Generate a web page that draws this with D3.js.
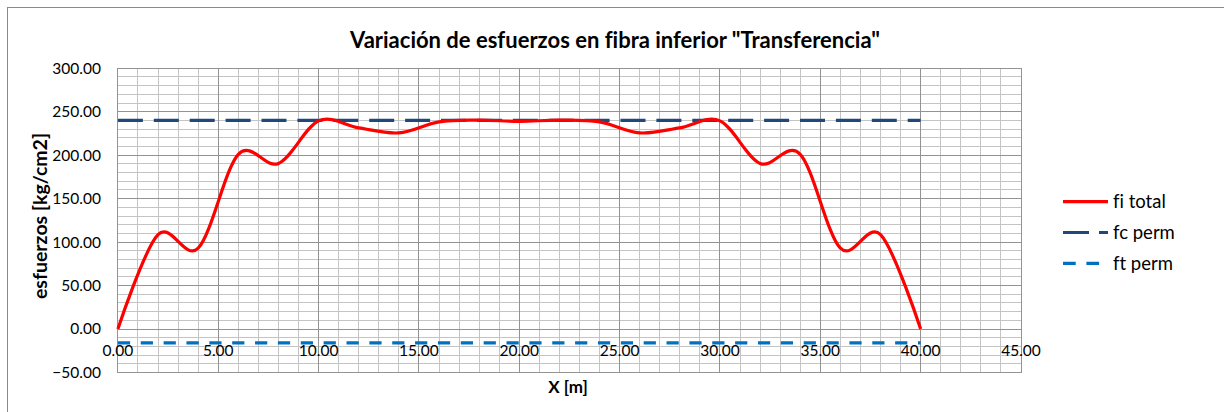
<!DOCTYPE html>
<html>
<head>
<meta charset="utf-8">
<script src="https://cdn.jsdelivr.net/npm/d3@7/dist/d3.min.js"></script>
<style>
  html, body { margin: 0; padding: 0; background: #fff; }
  svg { display: block; }
  text { font-family: Lato, "Open Sans", sans-serif; fill: #000; font-variant-ligatures: none; }
</style>
</head>
<body>
<svg id="chart" width="1224" height="412"></svg>
<script>
// Station along the beam [m]
const stations = [0, 2, 4, 6, 8, 10, 12, 14, 16, 18, 20, 22, 24, 26, 28, 30, 32, 34, 36, 38, 40];
// Total stress in the bottom fibre at transfer [kg/cm2]
const fiTotal = [0, 108.5, 93, 201, 190.5, 239.5, 231.5, 225.7, 238.4, 240.3, 239,
                 240.3, 238.4, 225.7, 231.5, 239.5, 190.5, 201, 93, 108.5, 0];
// Allowable limits (compression / tension)
const limitStations = [0, 40];
const fcPerm = [240, 240];
const ftPerm = [-16, -16];

const xTicks = [0, 5, 10, 15, 20, 25, 30, 35, 40, 45];
const yTicks = [-50, 0, 50, 100, 150, 200, 250, 300];

const titleText = 'Variación de esfuerzos en fibra inferior "Transferencia"';
const xTitle = "X [m]";
const yTitle = "esfuerzos [kg/cm2]";
const seriesNames = ["fi total", "fc perm", "ft perm"];

const svg = d3.select("#chart");

// chart frame
svg.append("rect")
  .attr("x", 7.5).attr("y", 7.5)
  .attr("width", 1240).attr("height", 420)
  .attr("fill", "#fff").attr("stroke", "#8a8a8a").attr("stroke-width", 1);

const x = d3.scaleLinear().domain([0, 45]).range([117.9, 1021]);
const y = d3.scaleLinear().domain([-50, 300]).range([372.5, 68.3]);

const grid = svg.append("g").attr("shape-rendering", "crispEdges");

// minor grid: every 1 m and every 10 kg/cm2
const minorX = d3.range(0, 45.01, 1).filter(v => v % 5 !== 0);
const minorY = d3.range(-50, 300.01, 10).filter(v => v % 50 !== 0);
grid.selectAll(".mx").data(minorX).join("line")
  .attr("x1", d => x(d)).attr("x2", d => x(d))
  .attr("y1", y(-50)).attr("y2", y(300))
  .attr("stroke", "#c4c4c4");
grid.selectAll(".my").data(minorY).join("line")
  .attr("x1", x(0)).attr("x2", x(45))
  .attr("y1", d => y(d)).attr("y2", d => y(d))
  .attr("stroke", "#c4c4c4");

// major grid
grid.selectAll(".Mx").data(xTicks).join("line")
  .attr("x1", d => x(d)).attr("x2", d => x(d))
  .attr("y1", y(-50)).attr("y2", y(300))
  .attr("stroke", "#939393");
grid.selectAll(".My").data(yTicks).join("line")
  .attr("x1", x(0)).attr("x2", x(45))
  .attr("y1", d => y(d)).attr("y2", d => y(d))
  .attr("stroke", "#939393");
grid.append("rect")
  .attr("x", x(0)).attr("y", y(300))
  .attr("width", x(45) - x(0)).attr("height", y(-50) - y(300))
  .attr("fill", "none").attr("stroke", "#939393");

// axis tick labels
const fmt = d3.format(".2f");
svg.append("g").selectAll("text").data(yTicks).join("text")
  .attr("x", x(0) - 17).attr("y", d => y(d))
  .attr("dy", "0.35em").attr("text-anchor", "end")
  .attr("font-size", 15.5).attr("fill", "#3a3a3a")
  .text(d => fmt(d));
svg.append("g").selectAll("text").data(xTicks).join("text")
  .attr("x", d => x(d)).attr("y", y(0) + 22)
  .attr("dy", "0.35em").attr("text-anchor", "middle")
  .attr("font-size", 15.5).attr("fill", "#3a3a3a")
  .text(d => fmt(d));

// titles
svg.append("text")
  .attr("x", 615).attr("y", 40).attr("dy", "0.35em")
  .attr("text-anchor", "middle").attr("font-size", 22).attr("font-weight", "bold")
  .text(titleText);
svg.append("text")
  .attr("x", 568).attr("y", 387).attr("dy", "0.35em")
  .attr("text-anchor", "middle").attr("font-size", 17).attr("font-weight", "bold")
  .text(xTitle);
svg.append("text")
  .attr("transform", "translate(40,216) rotate(-90)")
  .attr("dy", "0.35em")
  .attr("text-anchor", "middle").attr("font-size", 19.5).attr("font-weight", "bold")
  .text(yTitle);

// series
const line = d3.line()
  .x(d => x(d[0])).y(d => y(d[1]));

const plot = svg.append("g");
plot.append("path")
  .datum(limitStations.map((s, i) => [s, ftPerm[i]]))
  .attr("d", line)
  .attr("fill", "none").attr("stroke", "#0070c0").attr("stroke-width", 3.2)
  .attr("stroke-dasharray", "12.2,10.66");
plot.append("path")
  .datum(limitStations.map((s, i) => [s, fcPerm[i]]))
  .attr("d", line)
  .attr("fill", "none").attr("stroke", "#1f497d").attr("stroke-width", 3.2)
  .attr("stroke-dasharray", "25,10.9");
// smoothed line (uniform Catmull-Rom through the stations)
plot.append("path")
  .datum(stations.map((s, i) => [s, fiTotal[i]]))
  .attr("d", line.curve(d3.curveCardinal.tension(0)))
  .attr("fill", "none").attr("stroke", "#ff0000").attr("stroke-width", 3.2)
  .attr("stroke-linejoin", "round");

// legend
const legendStyles = [
  { color: "#ff0000", dash: null },
  { color: "#1f497d", dash: "26,10" },
  { color: "#0070c0", dash: "12.7,10.7" }
];
const legend = svg.append("g");
seriesNames.forEach((name, i) => {
  const ly = 201.7 + i * 30.8;
  legend.append("line")
    .attr("x1", 1063).attr("x2", 1108).attr("y1", ly).attr("y2", ly)
    .attr("stroke", legendStyles[i].color).attr("stroke-width", 3.2)
    .attr("stroke-dasharray", legendStyles[i].dash);
  legend.append("text")
    .attr("x", 1113).attr("y", ly).attr("dy", "0.35em")
    .attr("font-size", 18.5).attr("fill", "#1a1a1a")
    .text(name);
});
</script>
</body>
</html>
